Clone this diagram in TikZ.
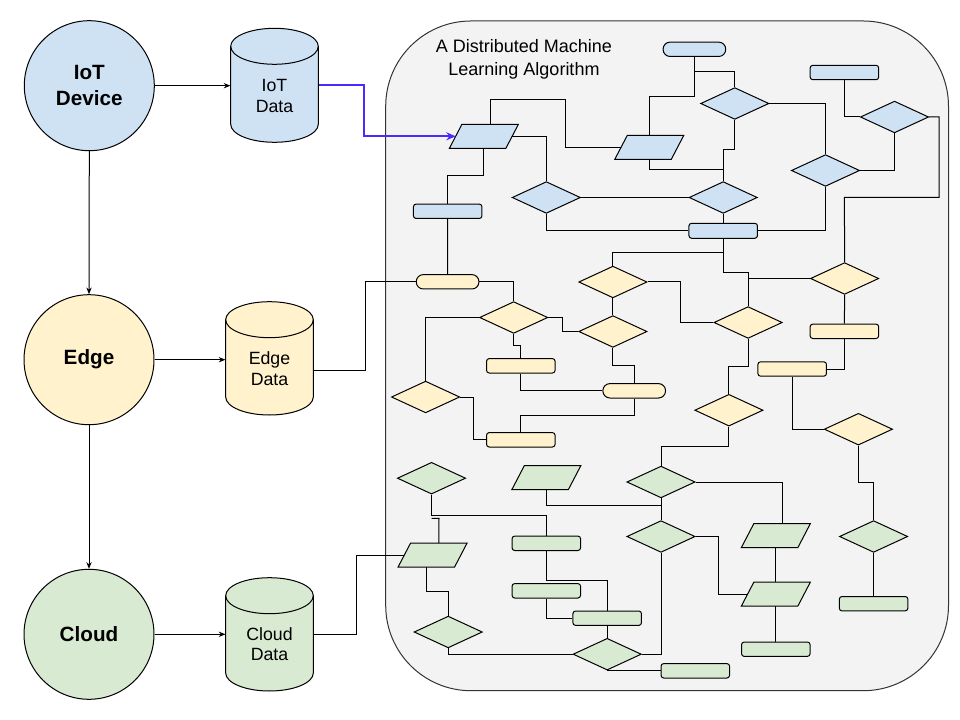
\documentclass[tikz,border=0pt]{standalone}
\usepackage{fontspec}
\setmainfont{Liberation Sans}
\usetikzlibrary{shapes.geometric,arrows.meta}
\definecolor{cb}{HTML}{CFE2F3}
\definecolor{cy}{HTML}{FFF2CC}
\definecolor{cg}{HTML}{D9EAD3}
\definecolor{panelgray}{HTML}{F3F3F3}
\definecolor{vio}{HTML}{4A2BFF}
% parallelogram: name, cx, cy, colour
\newcommand{\paral}[4]{%
  \filldraw[fill=#4, line width=0.75pt, line join=miter] (#2-34.5,#3+12) -- (#2+22,#3+12) -- (#2+34.5,#3-12) -- (#2-22,#3-12) -- cycle;
  \node[rectangle, inner sep=0pt, minimum width=51.75pt, minimum height=18pt] (#1) at (#2,#3) {};
  \coordinate (#1-top) at (#2+6.25,#3-12);
  \coordinate (#1-bot) at (#2-6.25,#3+12);
  \coordinate (#1-left) at (#2-28.25,#3);
  \coordinate (#1-right) at (#2+28.25,#3);
}
\begin{document}
\begin{tikzpicture}[x=0.75pt,y=-0.75pt,
 ln/.style={line width=0.75pt},
 dia/.style={diamond, draw, line width=0.75pt, inner sep=0pt, minimum width=51.2pt, minimum height=23.8pt},
 rbox/.style={rectangle, draw, line width=0.75pt, rounded corners=2pt, inner sep=0pt, minimum width=51.4pt, minimum height=10.8pt},
 pill/.style={rectangle, draw, line width=0.75pt, rounded corners=5.3pt, inner sep=0pt, minimum width=47pt, minimum height=10.8pt},
 circ/.style={circle, draw, line width=0.75pt, minimum size=97.5pt, inner sep=0pt, font=\bfseries\fontsize{15.5}{19.7}\selectfont, align=center},
 cylbody/.style={rectangle, inner sep=0pt, minimum width=65.7pt, minimum height=85pt},
 cyltext/.style={inner sep=0pt, align=center, font=\fontsize{13.3}{15.6}\selectfont},
 arr/.style={line width=0.75pt, -{Stealth[length=5pt,width=4pt]}},
]
\useasboundingbox (0,0) rectangle (960,720);

% panel
\node[draw=black!80, line width=0.75pt, fill=panelgray, rounded corners=64pt, minimum width=422.1pt, minimum height=502.3pt, inner sep=0pt] (panel) at (667.1,355.85) {};
\node[align=center, font=\fontsize{13.5}{16.8}\selectfont] (title) at (524,59.5) {A Distributed Machine\\Learning Algorithm};

% left column
\node[circ, fill=cb] (iot) at (89.3,85.7) {IoT\\Device};
\node[circ, fill=cy] (edge) at (89,359.7) {Edge};
\node[circ, fill=cg] (cloud) at (89,634.3) {Cloud};

% cylinders
\filldraw[fill=cb, ln] (230.7,46.3) -- (230.7,124.3) arc[start angle=180, end angle=360, x radius=32.85pt, y radius=13.5pt] -- (318.3,46.3) arc[start angle=0, end angle=180, x radius=32.85pt, y radius=13.5pt] -- cycle;
\draw[ln] (230.7,46.3) arc[start angle=180, end angle=360, x radius=32.85pt, y radius=13.5pt];
\node[cylbody] (iotdata) at (274.5,85.5) {};
\node[cyltext] (iotdatatxt) at (274.5,96.3) {IoT\\Data};

\filldraw[fill=cy, ln] (225.7,319.7) -- (225.7,397) arc[start angle=180, end angle=360, x radius=32.85pt, y radius=13.5pt] -- (313.3,319.7) arc[start angle=0, end angle=180, x radius=32.85pt, y radius=13.5pt] -- cycle;
\draw[ln] (225.7,319.7) arc[start angle=180, end angle=360, x radius=32.85pt, y radius=13.5pt];
\node[cylbody] (edgedata) at (269.5,358.5) {};
\node[cyltext] (edgedatatxt) at (269.5,368.8) {Edge\\Data};

\filldraw[fill=cg, ln] (225.7,595.7) -- (225.7,673) arc[start angle=180, end angle=360, x radius=32.85pt, y radius=13.5pt] -- (313.3,595.7) arc[start angle=0, end angle=180, x radius=32.85pt, y radius=13.5pt] -- cycle;
\draw[ln] (225.7,595.7) arc[start angle=180, end angle=360, x radius=32.85pt, y radius=13.5pt];
\node[cylbody] (clouddata) at (269.5,634.3) {};
\node[cyltext] (clouddatatxt) at (269.5,644.2) {Cloud\\Data};

\draw[arr] (iot.east) -- (iot.east -| iotdata.west);
\draw[arr] (edge.east) -- (edge.east -| edgedata.west);
\draw[arr] (cloud.east) -- (cloud.east -| clouddata.west);
\draw[arr] (iot.south) -- (edge.north);
\draw[arr] (edge.south) -- (cloud.north);

% ---------- blue nodes
\node[pill, fill=cb] (T) at (694.4,49.3) {};
\node[rbox, fill=cb] (R1) at (844.4,72.5) {};
\node[dia, fill=cb] (D1) at (734.8,103.5) {};
\node[dia, fill=cb] (D2) at (894.5,117) {};
\paral{P1}{483.9}{136.3}{cb}
\paral{P2}{649.2}{147.5}{cb}
\node[dia, fill=cb] (D3) at (825.5,170.5) {};
\node[dia, fill=cb] (D4) at (546.3,197.5) {};
\node[dia, fill=cb] (D5) at (723.2,197.5) {};
\node[rbox, fill=cb] (R2) at (447.7,211.3) {};
\node[rbox, fill=cb, minimum height=11.25pt] (R3) at (723.2,230.8) {};

% ---------- yellow nodes
\node[pill, fill=cy] (Y1) at (447.6,281.8) {};
\node[dia, fill=cy] (Y2) at (513.7,317.5) {};
\node[dia, fill=cy] (Y3) at (612.9,282) {};
\node[rbox, fill=cy] (Y4) at (520.8,365.8) {};
\node[dia, fill=cy] (Y5) at (425.6,397) {};
\node[dia, fill=cy] (Y6) at (612.9,331.5) {};
\node[dia, fill=cy] (Y7) at (748.1,322.5) {};
\node[dia, fill=cy] (Y8) at (844.6,278.5) {};
\node[rbox, fill=cy] (Y9) at (844.4,331.3) {};
\node[rbox, fill=cy] (Y10) at (792.2,369) {};
\node[dia, fill=cy] (Y11) at (858.4,429.2) {};
\node[dia, fill=cy] (Y12) at (728.9,410.2) {};
\node[pill, fill=cy] (Y13) at (634.2,390.8) {};
\node[rbox, fill=cy] (Y14) at (520.8,439.8) {};

% ---------- green nodes
\node[dia, fill=cg] (G1) at (431.5,478.2) {};
\paral{G2}{546.3}{477.7}{cg}
\node[dia, fill=cg] (G3) at (661,482) {};
\paral{G4}{775.8}{535.7}{cg}
\node[dia, fill=cg] (G5) at (661,536.5) {};
\node[rbox, fill=cg] (G6) at (546.3,543.3) {};
\paral{G7}{432.6}{555}{cg}
\node[dia, fill=cg] (G8) at (448.2,632) {};
\node[dia, fill=cg] (G9) at (607.2,654.2) {};
\node[rbox, fill=cg] (G10) at (695.3,670.8) {};
\node[rbox, fill=cg] (G11) at (607.2,618.2) {};
\node[rbox, fill=cg] (G12) at (546.3,590.8) {};
\paral{G13}{775.8}{594.2}{cg}
\node[rbox, fill=cg] (G14) at (775.8,649.2) {};
\node[dia, fill=cg] (G15) at (873.6,536.5) {};
\node[rbox, fill=cg] (G16) at (873.6,603.7) {};

% ---------- inputs
\draw[vio, line width=1.5pt, -{Stealth[length=7pt,width=6pt]}] (iotdata.east) -| (364.3,110) |- (P1-left);
\draw[ln] (edgedata.east |- 0,370) -| (365.7,320) |- (Y1.west);
\draw[ln] (clouddata.east) -| (356.7,600) |- (G7-left);

% ---------- blue connectors
\draw[ln] (T.south) -- (694.4,96.7) -- (649.2,96.7) -- (P2.north);
\draw[ln] (694.4,71.7) -| (D1.north);
\draw[ln] (D1.east) -| (D3.north);
\draw[ln] (D1.south) -- (734.8,150) -- (723.2,150) -- (D5.north);
\draw[ln] (P2.south) |- (723.2,170);
\draw[ln] (P1-top) -- (490.15,99.3) -- (565.6,99.3) -- (565.6,147.5) -- (P2-left);
\draw[ln] (P1-right) -| (D4.north);
\draw[ln] (P1.south) -- (483.9,176) -- (447.7,176) -- (R2.north);
\draw[ln] (R2.south) -- (Y1.north);
\draw[ln] (D4.east) -- (D5.west);
\draw[ln] (D4.south) |- (R3.west);
\draw[ln] (D5.south) -- (R3.north);
\draw[ln] (R3.east) -| (D3.south);
\draw[ln] (R1.south) |- (D2.west);
\draw[ln] (D2.south) |- (D3.east);
\draw[ln] (D2.east) -- (939,117) -- (939,197.3) -- (844.4,197.3) -- (Y8.north);
\draw[ln] (R3.south) -- (723.2,252.7) -- (612.9,252.7) -- (Y3.north);
\draw[ln] (723.2,252.7) -- (723.2,272.3) -- (748.1,272.3) -- (Y7.north);
\draw[ln] (748.1,278.5) -- (Y8.west);

% ---------- yellow connectors
\draw[ln] (Y1.east) -| (Y2.north);
\draw[ln] (Y2.west) -| (Y5.north);
\draw[ln] (Y2.east) -- (562.7,317.5) -- (562.7,331.5) -- (Y6.west);
\draw[ln] (Y2.south) -- (513.7,345.7) -- (520.8,345.7) -- (Y4.north);
\draw[ln] (Y3.south) -- (Y6.north);
\draw[ln] (Y3.east) -- (680.7,282) -- (680.7,322.5) -- (Y7.west);
\draw[ln] (Y7.south) -- (748.1,366) -- (728.9,366) -- (Y12.north);
\draw[ln] (Y8.south) -- (Y9.north);
\draw[ln] (Y9.south) |- (Y10.east);
\draw[ln] (Y10.south) |- (Y11.west);
\draw[ln] (Y11.south) -- (858.4,482.3) -- (873.6,482.3) -- (G15.north);
\draw[ln] (Y12.south) -- (728.9,446) -- (661,446) -- (G3.north);
\draw[ln] (Y6.south) -- (612.9,365.7) -- (634.2,365.7) -- (Y13.north);
\draw[ln] (Y4.south) |- (Y13.west);
\draw[ln] (Y13.south) -- (634.2,415) -- (520.8,415) -- (Y14.north);
\draw[ln] (Y5.east) -- (473,397) -- (473,439.8) -- (Y14.west);

% ---------- green connectors
\draw[ln] (G3.east) -| (G4-top);
\draw[ln] (G4.south) -- (G13.north);
\draw[ln] (G13.south) -- (G14.north);
\draw[ln] (G2.south) |- (661,505);
\draw[ln] (G3.south) -- (G5.north);
\draw[ln] (G1.south) -- (431.5,515.7) -- (546.3,515.7) -- (G6.north);
\draw[ln] (431.5,518.3) -- (439,518.3) -- (G7-top);
\draw[ln] (G7-bot) -- (426.35,591.3) -- (448.2,591.3) -- (G8.north);
\draw[ln] (G8.south) |- (G9.west);
\draw[ln] (G9.east) -| (G5.south);
\draw[ln] (G9.south) -- (G9.south -| G10.west);
\draw[ln] (G6.south) -- (546.3,580) -- (607.2,580) -- (G11.north);
\draw[ln] (G12.south) |- (G11.west);
\draw[ln] (G11.south) -- (G9.north);
\draw[ln] (G5.east) -- (718.7,536.5) -- (718.7,594.2) -- (G13-left);
\draw[ln] (G15.south) -- (G16.north);
\end{tikzpicture}
\end{document}
